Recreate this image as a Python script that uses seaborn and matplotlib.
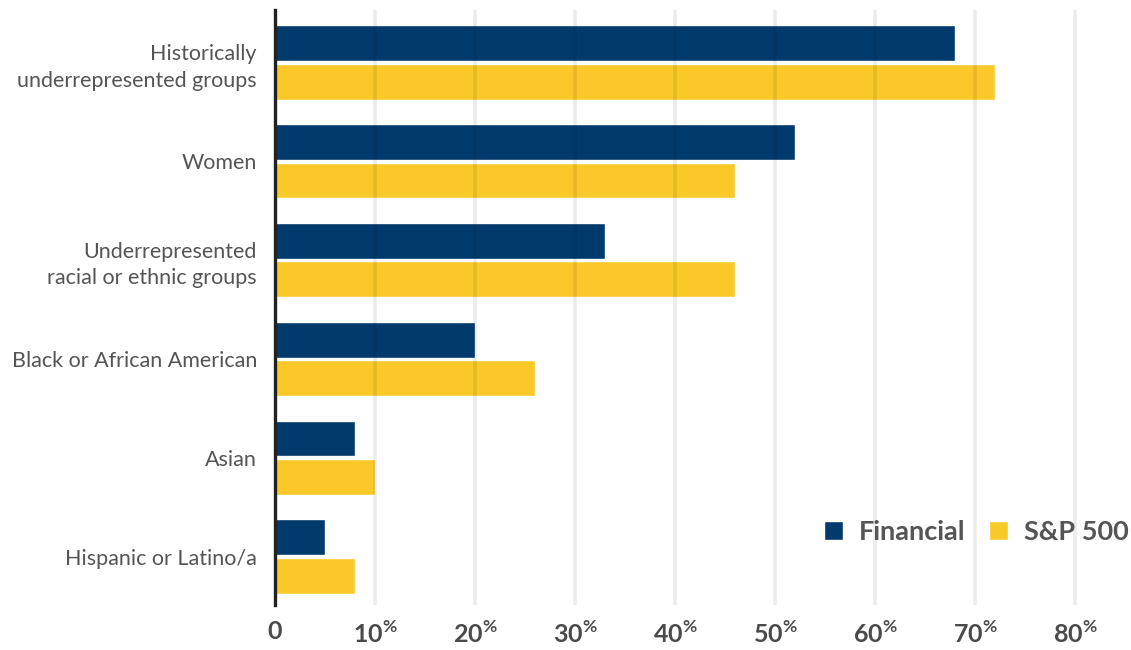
import matplotlib
matplotlib.use("Agg")
import matplotlib.pyplot as plt
import seaborn as sns
import pandas as pd
from matplotlib.patches import Patch

categories = [
    "Historically\nunderrepresented groups",
    "Women",
    "Underrepresented\nracial or ethnic groups",
    "Black or African American",
    "Asian",
    "Hispanic or Latino/a",
]
series_names = ["Financial", "S&P 500"]
financial = [68, 52, 33, 20, 8, 5]
sp500 = [72, 46, 46, 26, 10, 8]
x_ticks = [0, 10, 20, 30, 40, 50, 60, 70, 80]

navy = "#013a6d"
yellow = "#f8c928"

df = pd.DataFrame({
    "category": categories * 2,
    "series": [series_names[0]] * len(categories) + [series_names[1]] * len(categories),
    "value": financial + sp500,
})

sns.set_theme(style="white")
plt.rcParams["font.family"] = ["Lato", "DejaVu Sans"]
plt.rcParams["mathtext.fontset"] = "custom"
plt.rcParams["mathtext.rm"] = "Lato"

fig = plt.figure(figsize=(11.31, 6.5), dpi=100)
ax = fig.add_axes([275 / 1131, 1 - 605 / 650, 850 / 1131, 595 / 650])

sns.barplot(data=df, y="category", x="value", hue="series", order=categories,
            hue_order=series_names, palette=[navy, yellow], orient="h",
            width=0.78, gap=0.07, saturation=1, ax=ax, legend=False)

ax.set_xlim(0, 85)
ax.set_ylim(5.49, -0.53)
ax.set_xlabel("")
ax.set_ylabel("")

ax.set_xticks(x_ticks)
ax.set_xticklabels([("0" if v == 0 else f"{v}$^{{\\mathregular{{\\%}}}}$") for v in x_ticks],
                   fontsize=18, fontweight="bold", color="#4a4a4a")
ax.tick_params(axis="x", length=0, pad=11)
ax.tick_params(axis="y", length=0, pad=13)
for lab in ax.get_yticklabels():
    lab.set_fontsize(15.5)
    lab.set_color("#555555")
    lab.set_fontweight("normal")
    lab.set_linespacing(1.4)

ax.set_axisbelow(False)
ax.grid(axis="x", color="#000000", alpha=0.08, linewidth=2.6)
ax.grid(axis="y", visible=False)
for s in ["top", "right", "bottom"]:
    ax.spines[s].set_visible(False)
ax.spines["left"].set_color("#222222")
ax.spines["left"].set_linewidth(2.4)
ax.spines["left"].set_zorder(5)

handles = [Patch(facecolor=navy, label=series_names[0]),
           Patch(facecolor=yellow, label=series_names[1])]
leg = ax.legend(handles=handles, loc="center right", bbox_to_anchor=(1.033, 0.123),
                ncol=2, frameon=False, handlelength=0.7, handleheight=0.7,
                handletextpad=0.6, columnspacing=0.85,
                prop={"size": 19.5, "weight": "bold"})
for t in leg.get_texts():
    t.set_color("#555555")

fig.savefig("out.png", dpi=100)
